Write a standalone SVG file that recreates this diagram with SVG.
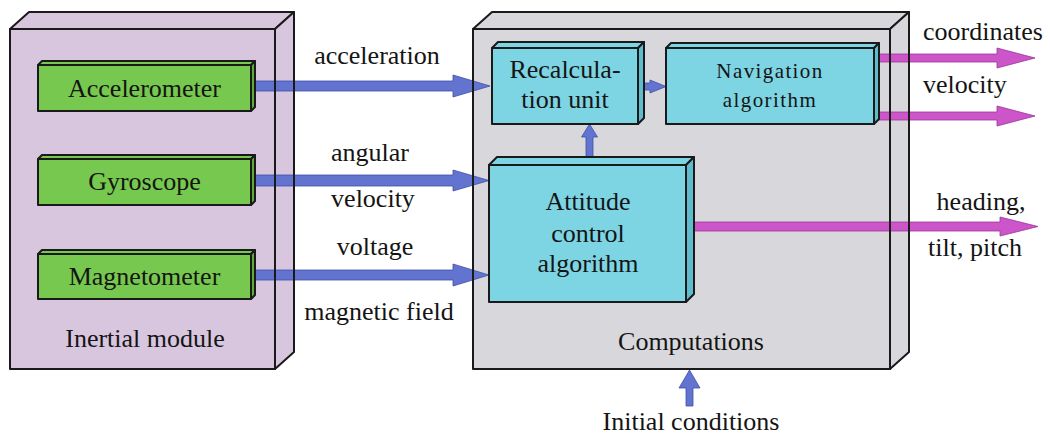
<svg xmlns="http://www.w3.org/2000/svg" width="1050" height="434" viewBox="0 0 1050 434">
<defs>
<style>
.t{font-family:"Liberation Serif","Times New Roman",serif;font-size:26px;fill:#141414;text-anchor:middle}
.tl{text-anchor:start}
.nav{font-size:21px;letter-spacing:1.4px}
.edge{stroke:#1a1a1a;stroke-width:2;stroke-linejoin:round}
.box{stroke:#1a1a1a;stroke-width:2;stroke-linejoin:round}
.purple{fill:#d8c6df}
.gray{fill:#d8d8dc}
.green{fill:#77c84f}
.greenS{fill:#5ea93c}
.cyan{fill:#7dd5e4}
.cyanS{fill:#5fbccd}
.blue{fill:#6274cf;stroke:#3f4fa8;stroke-width:0.8;stroke-linejoin:round}
.mag{fill:#cb55c9;stroke:#9b3598;stroke-width:0.8;stroke-linejoin:round}
</style>
</defs>
<rect width="1050" height="434" fill="#ffffff"/>

<g id="inertial-module">
<polygon class="purple box" points="10,29 29,12 294,12 275,29"/>
<polygon class="purple box" points="275,29 294,12 294,352 275,369"/>
<rect class="purple box" x="10" y="29" width="265" height="340"/>
<text class="t" x="145" y="347">Inertial module</text>
</g>

<g id="computations">
<polygon class="gray box" points="473,29 492,12 909,12 890,29"/>
<polygon class="gray box" points="890,29 909,12 909,352 890,369"/>
<rect class="gray box" x="473" y="29" width="417" height="340"/>
<text class="t" x="691" y="350">Computations</text>
</g>

<g id="connectors">
<polygon class="blue" points="254,81 453,81 453,75 490,86 453,97 453,91 254,91"/>
<polygon class="blue" points="254,175 453,175 453,170 489,180.5 453,191 453,186 254,186"/>
<polygon class="blue" points="254,270 453,270 453,264 489,275 453,286 453,280 254,280"/>
<polygon class="blue" points="640,83 650,83 650,80 666,86.5 650,93 650,90 640,90"/>
<polygon class="blue" points="586,157 586,137 581.5,137 589.5,124 597.5,137 593,137 593,157"/>
<polygon class="blue" points="686,406 686,388 679,388 689.5,370 700,388 693,388 693,406"/>
<polygon class="mag" points="879,54 997,54 997,48 1035,58 997,68 997,62 879,62"/>
<polygon class="mag" points="879,112 997,112 997,106 1035,116 997,126 997,120 879,120"/>
<polygon class="mag" points="694,222 1000,222 1000,217 1038,226.5 1000,236 1000,231 694,231"/>
</g>

<g id="container-edges" fill="none">
<line class="edge" x1="275" y1="29" x2="275" y2="369"/>
<line class="edge" x1="294" y1="12" x2="294" y2="352"/>
<line class="edge" x1="473" y1="29" x2="473" y2="369"/>
<line class="edge" x1="890" y1="29" x2="890" y2="369"/>
<line class="edge" x1="909" y1="12" x2="909" y2="352"/>
</g>

<g id="accelerometer">
<polygon class="green box" points="38,65 42,61 255,61 251,65"/>
<polygon class="greenS box" points="251,65 255,61 255,107 251,111"/>
<rect class="green box" x="38" y="65" width="213" height="46"/>
<text class="t" x="144.5" y="97">Accelerometer</text>
</g>

<g id="gyroscope">
<polygon class="green box" points="38,159 42,155 255,155 251,159"/>
<polygon class="greenS box" points="251,159 255,155 255,201 251,205"/>
<rect class="green box" x="38" y="159" width="213" height="46"/>
<text class="t" x="144.5" y="190">Gyroscope</text>
</g>

<g id="magnetometer">
<polygon class="green box" points="38,254 42,250 255,250 251,254"/>
<polygon class="greenS box" points="251,254 255,250 255,295 251,299"/>
<rect class="green box" x="38" y="254" width="213" height="45"/>
<text class="t" x="144.5" y="285">Magnetometer</text>
</g>

<g id="recalculation-unit">
<polygon class="cyan box" points="492,48 498,42 644,42 638,48"/>
<polygon class="cyanS box" points="638,48 644,42 644,118 638,124"/>
<rect class="cyan box" x="492" y="48" width="146" height="76"/>
<text class="t" x="565" y="78">Recalcula-</text>
<text class="t" x="565" y="108">tion unit</text>
</g>

<g id="navigation-algorithm">
<polygon class="cyan box" points="666,48 671,43 879,43 874,48"/>
<polygon class="cyanS box" points="874,48 879,43 879,119 874,124"/>
<rect class="cyan box" x="666" y="48" width="208" height="76"/>
<text class="t nav" x="770" y="78">Navigation</text>
<text class="t nav" x="770" y="107">algorithm</text>
</g>

<g id="attitude-control-algorithm">
<polygon class="cyan box" points="489,165 497,157 694,157 686,165"/>
<polygon class="cyanS box" points="686,165 694,157 694,294 686,302"/>
<rect class="cyan box" x="489" y="165" width="197" height="137"/>
<text class="t" x="588" y="210">Attitude</text>
<text class="t" x="588" y="242">control</text>
<text class="t" x="588" y="272">algorithm</text>
</g>

<g id="labels">
<text class="t" x="377" y="64">acceleration</text>
<text class="t" x="370" y="161">angular</text>
<text class="t" x="373" y="207">velocity</text>
<text class="t" x="375" y="255">voltage</text>
<text class="t" x="379" y="320">magnetic field</text>
<text class="t tl" x="923" y="40">coordinates</text>
<text class="t tl" x="923" y="93">velocity</text>
<text class="t" x="981" y="210">heading,</text>
<text class="t" x="975" y="256">tilt, pitch</text>
<text class="t" x="691" y="430">Initial conditions</text>
</g>
</svg>
